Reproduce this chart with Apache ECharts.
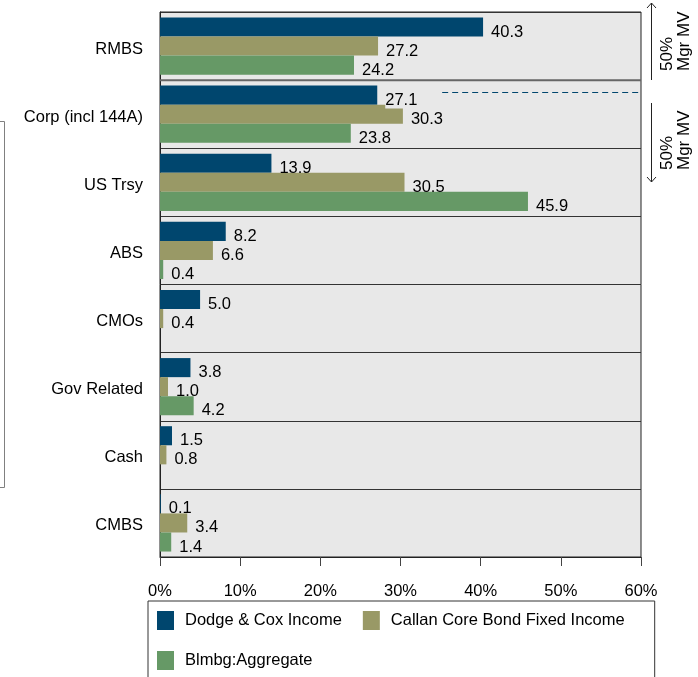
<!DOCTYPE html>
<html>
<head>
<meta charset="utf-8">
<script src="https://cdn.jsdelivr.net/npm/echarts@6/dist/echarts.min.js"></script>
<style>
  html, body { margin: 0; padding: 0; background: #ffffff; }
  #chart { width: 698px; height: 677px; }
</style>
</head>
<body>
<div id="chart"></div>
<script>
// Sector weights (% of market value)
const categories = ['RMBS', 'Corp (incl 144A)', 'US Trsy', 'ABS', 'CMOs', 'Gov Related', 'Cash', 'CMBS'];
const dodgeCox  = [40.3, 27.1, 13.9, 8.2, 5.0, 3.8, 1.5, 0.1];
const callanCore = [27.2, 30.3, 30.5, 6.6, 0.4, 1.0, 0.8, 3.4];
const blmbgAgg  = [24.2, 23.8, 45.9, 0.4, null, 4.2, null, 1.4];
const seriesNames = ['Dodge & Cox Income', 'Callan Core Bond Fixed Income', 'Blmbg:Aggregate'];
const xTicks = [0, 10, 20, 30, 40, 50, 60];

const FONT = 'Liberation Sans, Arial, sans-serif';
const FS = 16.5;
const colors = ['#00466e', '#999966', '#669966'];

const chart = echarts.init(document.getElementById('chart'), null, { renderer: 'canvas' });

function barSeries(name, data, color) {
  return {
    name: name,
    type: 'bar',
    data: data,
    barGap: '0%',
    barCategoryGap: '16%',
    itemStyle: { color: color },
    label: {
      show: true,
      position: 'right',
      distance: 8,
      offset: [0, 5],
      color: '#000',
      fontFamily: FONT,
      fontSize: FS,
      formatter: p => (p.value == null ? '' : Number(p.value).toFixed(1))
    },
    emphasis: { disabled: true }
  };
}

const series = [
  barSeries(seriesNames[0], dodgeCox, colors[0]),
  barSeries(seriesNames[1], callanCore, colors[1]),
  barSeries(seriesNames[2], blmbgAgg, colors[2])
];
// the Corp label sits on a plain backing so the dashed guide stops at it
series[0].data = dodgeCox.map((v, i) => i === 1
  ? { value: v, label: { backgroundColor: '#e8e8e8', padding: [0, 28, 0, 0] } }
  : v);

chart.setOption({
  animation: false,
  color: colors,
  grid: {
    left: 160, right: 57, top: 12, bottom: 120,
    show: true,
    backgroundColor: '#e8e8e8',
    borderColor: '#222',
    borderWidth: 1
  },
  legend: {
    data: seriesNames,
    left: 148,
    top: 601,
    width: 470,
    orient: 'horizontal',
    padding: [10, 30, 10, 9],
    itemGap: 21,
    itemWidth: 17,
    itemHeight: 19,
    icon: 'rect',
    borderColor: '#333',
    borderWidth: 1,
    borderRadius: 0,
    textStyle: { color: '#000', fontFamily: FONT, fontSize: FS, padding: [0, 0, 0, 6] }
  },
  xAxis: {
    type: 'value',
    min: xTicks[0],
    max: xTicks[xTicks.length - 1],
    interval: 10,
    axisLine: { show: true, lineStyle: { color: '#222', width: 1 } },
    axisTick: { show: true, length: 9, lineStyle: { color: '#444' } },
    axisLabel: {
      color: '#000', fontFamily: FONT, fontSize: FS, margin: 26,
      formatter: v => v + '%'
    },
    splitLine: { show: false }
  },
  yAxis: {
    type: 'category',
    data: categories,
    inverse: true,
    axisLine: { show: true, lineStyle: { color: '#222', width: 1 } },
    axisTick: { show: false },
    axisLabel: {
      color: '#000', fontFamily: FONT, fontSize: FS, margin: 17,
      formatter: v => '{c|' + v + '}',
      rich: { c: { color: '#000', fontFamily: FONT, fontSize: FS, padding: [6, 0, 0, 0] } }
    },
    splitLine: { show: true, lineStyle: { color: '#333', width: 1 } }
  },
  series: series
});

// Overlay: separator emphasis, dashed guide, right-hand notes, left bracket
function drawOverlay() {
  const c0 = chart.convertToPixel({ gridIndex: 0 }, [0, categories[0]]);
  const c1 = chart.convertToPixel({ gridIndex: 0 }, [0, categories[1]]);
  const band = c1[1] - c0[1];
  const boundary = (c0[1] + c1[1]) / 2;
  const xLeft = chart.convertToPixel({ xAxisIndex: 0 }, 0);
  const xRight = chart.convertToPixel({ xAxisIndex: 0 }, 60);
  const barW = band * 0.84 / 3;
  const dashY = Math.round(c1[1] - barW - 3) + 0.5;
  const dashStart = chart.convertToPixel({ xAxisIndex: 0 }, 35.2);

  const textStyle = { fontFamily: FONT, fontSize: 17, fill: '#000' };

  chart.setOption({
    graphic: [
      { type: 'line', shape: { x1: xLeft, y1: boundary, x2: xRight, y2: boundary },
        style: { stroke: '#666', lineWidth: 2 }, z: 100 },
      { type: 'line', shape: { x1: dashStart, y1: dashY, x2: xRight, y2: dashY },
        style: { stroke: '#00466e', lineWidth: 1, lineDash: [6, 4] }, z: 100 },
      // upper note: arrow pointing up
      { type: 'polyline', shape: { points: [[651.5, 80], [651.5, 3]] },
        style: { stroke: '#222', lineWidth: 1, fill: null } },
      { type: 'polyline', shape: { points: [[647, 8], [651.5, 3], [656, 8]] },
        style: { stroke: '#222', lineWidth: 1, fill: null } },
      { type: 'text', x: 667, y: 71, rotation: Math.PI / 2,
        style: Object.assign({ text: '50%', align: 'left', verticalAlign: 'middle' }, textStyle) },
      { type: 'text', x: 684, y: 71, rotation: Math.PI / 2,
        style: Object.assign({ text: 'Mgr MV', align: 'left', verticalAlign: 'middle' }, textStyle) },
      // lower note: arrow pointing down
      { type: 'polyline', shape: { points: [[651.5, 103], [651.5, 182]] },
        style: { stroke: '#222', lineWidth: 1, fill: null } },
      { type: 'polyline', shape: { points: [[647, 177], [651.5, 182], [656, 177]] },
        style: { stroke: '#222', lineWidth: 1, fill: null } },
      { type: 'text', x: 667, y: 170, rotation: Math.PI / 2,
        style: Object.assign({ text: '50%', align: 'left', verticalAlign: 'middle' }, textStyle) },
      { type: 'text', x: 684, y: 170, rotation: Math.PI / 2,
        style: Object.assign({ text: 'Mgr MV', align: 'left', verticalAlign: 'middle' }, textStyle) },
      // left bracket
      { type: 'polyline', shape: { points: [[0, 121.5], [4.5, 121.5], [4.5, 487.5], [0, 487.5]] },
        style: { stroke: '#808080', lineWidth: 1, fill: null } }
    ]
  });
}
drawOverlay();
</script>
</body>
</html>
